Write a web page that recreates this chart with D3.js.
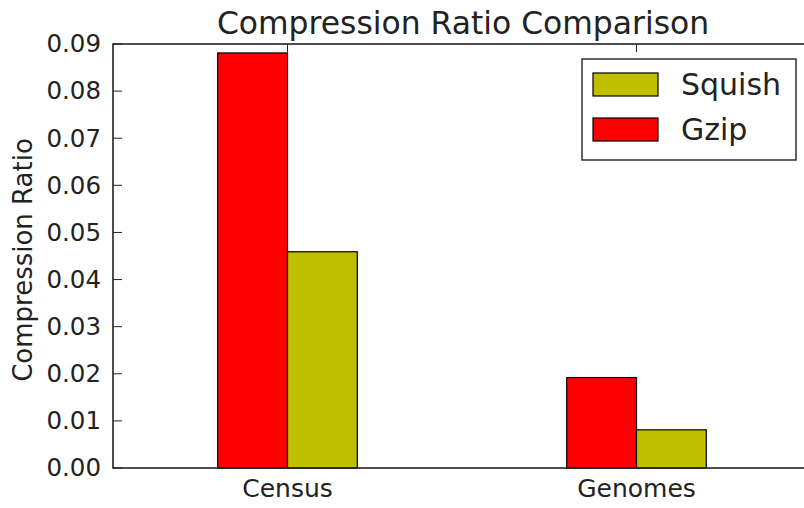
<!DOCTYPE html>
<html>
<head>
<meta charset="utf-8">
<script src="https://cdn.jsdelivr.net/npm/d3@7"></script>
<style>
  html, body { margin: 0; padding: 0; background: #fff; }
  svg { display: block; font-family: "DejaVu Sans", sans-serif; }
</style>
</head>
<body>
<svg id="chart" width="804" height="508"></svg>
<script>
// Data
const categories = ["Census", "Genomes"];
const seriesNames = ["Gzip", "Squish"];
const gzipValues = [0.0881, 0.0192];
const squishValues = [0.0459, 0.0081];
const yTicks = [0, 0.01, 0.02, 0.03, 0.04, 0.05, 0.06, 0.07, 0.08, 0.09];
const legendOrder = ["Squish", "Gzip"];

const colors = { Gzip: "#ff0000", Squish: "#bfbf00" };
const values = { Gzip: gzipValues, Squish: squishValues };

const svg = d3.select("#chart");
const plotLeft = 113, plotRight = 811, plotTop = 44, plotBottom = 468;

const x = d3.scaleBand().domain(categories).range([plotLeft, plotRight]).padding(0);
const y = d3.scaleLinear().domain([0, 0.09]).range([plotBottom, plotTop]);
const barW = x.bandwidth() * 0.2;

// offset of each series relative to category center
const offsets = { Gzip: -barW, Squish: 0 };

// Bars
seriesNames.forEach(name => {
  svg.append("g").selectAll("rect")
    .data(categories.map((c, i) => ({ c, v: values[name][i] })))
    .join("rect")
    .attr("x", d => x(d.c) + x.bandwidth() / 2 + offsets[name])
    .attr("y", d => y(d.v))
    .attr("width", barW)
    .attr("height", d => y(0) - y(d.v))
    .attr("fill", colors[name])
    .attr("stroke", "#000")
    .attr("stroke-width", 1.2);
});

// Frame
svg.append("rect")
  .attr("x", plotLeft).attr("y", plotTop)
  .attr("width", plotRight - plotLeft).attr("height", plotBottom - plotTop)
  .attr("fill", "none").attr("stroke", "#222").attr("stroke-width", 1.6);

// Y axis: inward ticks, labels on left
const yAxis = d3.axisLeft(y).tickValues(yTicks).tickFormat(d3.format(".2f")).tickSize(0).tickPadding(12);
const gy = svg.append("g").attr("transform", `translate(${plotLeft},0)`).call(yAxis);
gy.select(".domain").remove();
gy.selectAll("text").attr("font-size", 24.5).attr("fill", "#222").attr("font-family", "DejaVu Sans");
svg.append("g").selectAll("line").data(yTicks).join("line")
  .attr("x1", plotLeft).attr("x2", plotLeft + 9)
  .attr("y1", d => y(d)).attr("y2", d => y(d))
  .attr("stroke", "#222").attr("stroke-width", 1);

// X axis: labels below, inward ticks at top
const xAxis = d3.axisBottom(x).tickSize(0).tickPadding(11);
const gx = svg.append("g").attr("transform", `translate(0,${plotBottom})`).call(xAxis);
gx.select(".domain").remove();
gx.selectAll("text").attr("font-size", 25).attr("fill", "#222").attr("font-family", "DejaVu Sans");
svg.append("g").selectAll("line").data(categories).join("line")
  .attr("x1", d => x(d) + x.bandwidth() / 2).attr("x2", d => x(d) + x.bandwidth() / 2)
  .attr("y1", plotTop).attr("y2", plotTop + 8)
  .attr("stroke", "#222").attr("stroke-width", 1);

// Title
svg.append("text")
  .attr("x", 463).attr("y", 34)
  .attr("text-anchor", "middle")
  .attr("font-size", 31.4).attr("fill", "#222")
  .text("Compression Ratio Comparison");

// Y label
svg.append("text")
  .attr("transform", `translate(32,260) rotate(-90)`)
  .attr("text-anchor", "middle")
  .attr("font-size", 26).attr("fill", "#222")
  .text("Compression Ratio");

// Legend
const lg = svg.append("g");
lg.append("rect").attr("x", 582).attr("y", 59).attr("width", 214).attr("height", 101)
  .attr("fill", "#fff").attr("stroke", "#222").attr("stroke-width", 1.4);
legendOrder.forEach((name, i) => {
  const yy = 73 + i * 45;
  lg.append("rect").attr("x", 593).attr("y", yy).attr("width", 65).attr("height", 23)
    .attr("fill", colors[name]).attr("stroke", "#000").attr("stroke-width", 1.2);
  lg.append("text").attr("x", 681).attr("y", yy + 22)
    .attr("font-size", 30).attr("fill", "#222").text(name);
});
</script>
</body>
</html>
